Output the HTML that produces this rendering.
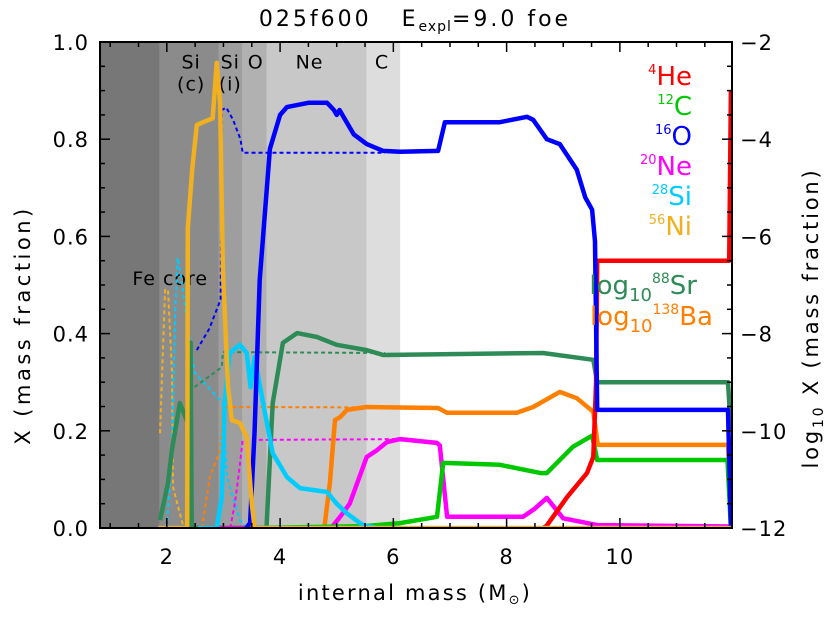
<!DOCTYPE html>
<html><head><meta charset="utf-8">
<style>
html,body{margin:0;padding:0;background:#fff;}
svg{display:block;font-family:"DejaVu Sans","Liberation Sans",sans-serif;}
</style></head>
<body>
<svg id="chart" width="830" height="623" viewBox="0 0 830 623" xmlns="http://www.w3.org/2000/svg">
<defs><clipPath id="plotclip"><rect x="100" y="42" width="632" height="486"/></clipPath></defs>
<g id="shading" clip-path="url(#plotclip)"></g>
<g id="region-labels" font-size="19" fill="#000" letter-spacing="1"></g>
<g id="series" clip-path="url(#plotclip)"></g>
<g id="axes"></g>
<g id="legend"></g>
<text x="415" y="26" text-anchor="middle" font-size="22" letter-spacing="3">025f600&#160;&#160;&#160;E<tspan font-size="14" dy="5" letter-spacing="1">expl</tspan><tspan dy="-5">=9.0 foe</tspan></text>
<text x="415" y="600" text-anchor="middle" font-size="21" letter-spacing="2.2">internal mass (M<tspan font-size="13" dy="4">⊙</tspan><tspan dy="-4">)</tspan></text>
<text transform="translate(30,325) rotate(-90)" text-anchor="middle" font-size="21" letter-spacing="3.5">X (mass fraction)</text>
<text transform="translate(818,318) rotate(-90)" text-anchor="middle" font-size="21" letter-spacing="2.8">log<tspan font-size="14" dy="5">10</tspan><tspan dy="-5"> X (mass fraction)</tspan></text>
</svg>
<script>
const NS='http://www.w3.org/2000/svg';
// axis domains
const xMin=0.82, xMax=11.98;
const xTicks=[2,4,6,8,10];
const yTicksLeft=[0.0,0.2,0.4,0.6,0.8,1.0];
const yTicksRight=[-2,-4,-6,-8,-10,-12];
// shaded zones [start,end] in mass
const zoneStarts=[0.82,1.87,2.92,3.34,3.76,5.53,6.12];
const zoneEnds=[1.87,2.92,3.34,3.76,5.53,6.12,6.12];
const zoneColors=['#777777','#8b8b8b','#9e9e9e','#b1b1b1','#c8c8c8','#dddddd','#ffffff'];
const regionNames=['Si','(c)','Si','(i)','O','Ne','C','Fe core'];
const regionMass=[2.43,2.43,3.12,3.12,3.57,4.52,5.8,2.06];
const regionVal=[0.945,0.9,0.945,0.9,0.945,0.945,0.945,0.5];

// linear series (X, left axis)
const heM=[8.65,8.71,9.07,9.42,9.53,9.58,9.6,11.93,11.96];
const heV=[0,0.005,0.064,0.113,0.146,0.3,0.55,0.55,0.9];
const cM=[3.5,5.5,6.12,6.77,6.88,7.88,8.6,8.71,9.17,9.51,9.6,11.9,11.96];
const cV=[0,0.004,0.01,0.023,0.134,0.13,0.113,0.113,0.167,0.19,0.14,0.14,0];
const oM=[3.40,3.47,3.55,3.64,3.82,4.0,4.12,4.5,4.83,4.95,5.0,5.05,5.3,5.53,5.82,6.12,6.79,6.91,7.88,8.36,8.47,8.71,8.94,9.24,9.39,9.51,9.56,9.60,11.91,11.96];
const oV=[0,0.01,0.2,0.51,0.78,0.85,0.866,0.875,0.875,0.86,0.85,0.86,0.81,0.79,0.776,0.774,0.776,0.835,0.835,0.846,0.84,0.80,0.79,0.737,0.68,0.655,0.59,0.243,0.243,0];
const oDM=[2.53,2.75,2.95,2.97,3.05,3.17,3.3,3.34,5.85];
const oDV=[0.366,0.41,0.47,0.86,0.865,0.84,0.80,0.772,0.772];
const neM=[2.9,4.9,5.06,5.23,5.53,5.71,5.89,6.12,6.77,6.82,6.95,8.29,8.5,8.71,9.0,9.6,11.96];
const neV=[0,0,0.023,0.05,0.146,0.16,0.177,0.183,0.175,0.17,0.023,0.023,0.04,0.062,0.02,0.006,0.003];
const neDM=[3.12,3.2,3.28,3.34,6.1];
const neDV=[0,0.05,0.12,0.181,0.183];
const siM=[2.55,2.88,2.97,3.02,3.11,3.29,3.41,3.48,3.55,3.70,3.87,4.12,4.35,4.83,5.0,5.18,5.46,5.7];
const siV=[0,0,0.064,0.257,0.36,0.377,0.36,0.29,0.352,0.257,0.154,0.105,0.082,0.074,0.05,0.03,0.006,0];
const siDM=[2.0,2.09,2.15,2.19,2.25,2.35,2.49,2.99,3.06,3.29,3.4];
const siDV=[0,0.154,0.45,0.556,0.52,0.43,0.32,0.257,0.105,0.016,0];
const niM=[1.85,2.36,2.37,2.45,2.53,2.64,2.81,2.88,2.94,2.99,3.08,3.15,3.29,3.41,3.50,3.55,11.96];
const niV=[0,0,0.617,0.74,0.829,0.835,0.843,0.957,0.874,0.53,0.29,0.222,0.216,0.187,0.05,0,0];
const niDM=[1.88,1.97,2.02,2.09,2.11,2.23,2.3];
const niDV=[0.195,0.49,0.49,0.325,0.084,0.03,0];
// log series (log10 X, right axis)
const srM=[1.88,2.02,2.09,2.23,2.35,2.37,2.42,2.44,3.76,3.87,4.05,4.30,4.65,5.0,5.53,5.82,8.64,9.53,9.6,11.91,11.96];
const srV=[-11.84,-11.07,-10.4,-9.43,-9.78,-9.3,-8.19,-12,-12,-9.43,-8.19,-7.99,-8.07,-8.23,-8.34,-8.44,-8.4,-8.54,-9.0,-9.0,-9.98];
const srDM=[2.49,2.97,2.99,5.85];
const srDV=[-9.1,-8.69,-8.38,-8.4];
const baM=[4.78,4.88,4.97,5.06,5.18,5.53,6.79,6.95,8.18,8.47,8.94,9.24,9.53,9.61,11.91,11.96];
const baV=[-12,-11.07,-9.78,-9.72,-9.57,-9.51,-9.53,-9.63,-9.63,-9.51,-9.2,-9.33,-9.61,-10.29,-10.29,-11.4];
const baDM=[2.62,2.76,2.94,2.99,6.1];
const baDV=[-12,-10.95,-10.4,-9.51,-9.52];

const L=100,R=732,T=42,B=528;
function sx(m){return L+(m-xMin)/(xMax-xMin)*(R-L);}
function syL(v){return B-v*(B-T);}
function syR(v){return T+(-2-v)/10*(B-T);}

function el(tag,attrs,parent){const e=document.createElementNS(NS,tag);for(const k in attrs)e.setAttribute(k,attrs[k]);parent.appendChild(e);return e;}

const shading=document.getElementById('shading');
for(let i=0;i<zoneStarts.length;i++){
  if(zoneEnds[i]<=zoneStarts[i])continue;
  const r=el('rect',{x:sx(zoneStarts[i]),y:T,width:sx(zoneEnds[i])-sx(zoneStarts[i]),height:B-T,fill:zoneColors[i]},shading);
  
  
}
const rl=document.getElementById('region-labels');
for(let i=0;i<regionNames.length;i++){
  const t=el('text',{x:sx(regionMass[i]),y:syL(regionVal[i]),'text-anchor':'middle'},rl);
  t.textContent=regionNames[i];
  
  
}

const series=document.getElementById('series');
function line(ms,vs,fy,color,w,dash,name){
  const d=ms.map((m,i)=>(i?'L':'M')+sx(m).toFixed(1)+','+fy(vs[i]).toFixed(1)).join(' ');
  const p=el('path',{d:d,fill:'none',stroke:color,'stroke-width':w,'stroke-linejoin':'round'},series);
  if(dash)p.setAttribute('stroke-dasharray',dash);
  
  
}
const DASH='4,3';
line(niDM,niDV,syL,'#f0b020',2,DASH,'ni56-dashed-line');
line(siDM,siDV,syL,'#00ccff',2,DASH,'si28-dashed-line');
line(oDM,oDV,syL,'#0000ff',2,DASH,'o16-dashed-line');
line(neDM,neDV,syL,'#ff00ff',2,DASH,'ne20-dashed-line');
line(srDM,srDV,syR,'#2e8b57',2,DASH,'sr88-dashed-line');
line(baDM,baDV,syR,'#ff7f00',2,DASH,'ba138-dashed-line');
line(srM,srV,syR,'#2e8b57',4.5,null,'sr88-line');
line(baM,baV,syR,'#ff7f00',4.5,null,'ba138-line');
line(neM,neV,syL,'#ff00ff',4.5,null,'ne20-line');
line(cM,cV,syL,'#00c800',4.5,null,'c12-line');
line(siM,siV,syL,'#00ccff',4.5,null,'si28-line');
line(heM,heV,syL,'#ff0000',4.5,null,'he4-line');
line(oM,oV,syL,'#0000ff',4.5,null,'o16-line');
line(niM,niV,syL,'#f0b020',4.5,null,'ni56-line');

const axes=document.getElementById('axes');
const frame=el('rect',{x:L,y:T,width:R-L,height:B-T,fill:'none',stroke:'#000','stroke-width':2},axes);


for(let m=1;m<=11.9;m+=0.5){
  const major=Math.abs(m/2-Math.round(m/2))<1e-6;
  const len=major?10:5;
  el('line',{x1:sx(m),x2:sx(m),y1:B,y2:B-len,stroke:'#000','stroke-width':1.5},axes);
  el('line',{x1:sx(m),x2:sx(m),y1:T,y2:T+len,stroke:'#000','stroke-width':1.5},axes);
}
xTicks.forEach(v=>{const t=el('text',{x:sx(v),y:B+36,'text-anchor':'middle','font-size':21,'letter-spacing':1},axes);t.textContent=v;
  
  });
for(let k=0;k<=20;k++){const v=k*0.05;const major=k%4===0;
  el('line',{x1:L,x2:L+(major?10:5),y1:syL(v),y2:syL(v),stroke:'#000','stroke-width':1.5},axes);}
yTicksLeft.forEach(v=>{const t=el('text',{x:89,y:syL(v)+8,'text-anchor':'end','font-size':21,'letter-spacing':1},axes);t.textContent=v.toFixed(1);
  
  });
for(let k=0;k<=20;k++){const v=-2-k*0.5;const major=k%4===0;
  el('line',{x1:R,x2:R-(major?10:5),y1:syR(v),y2:syR(v),stroke:'#000','stroke-width':1.5},axes);}
yTicksRight.forEach(v=>{const t=el('text',{x:740,y:syR(v)+8,'text-anchor':'start','font-size':21,'letter-spacing':1},axes);t.textContent='\u2212'+Math.abs(v);
  
  });

// legend
const legendNames=['He','C','O','Ne','Si','Ni'];
const legendIso=['4','12','16','20','28','56'];
const legendColors=['#ff0000','#00c800','#0000ff','#ff00ff','#00ccff','#f0b020'];
const lg=document.getElementById('legend');
legendNames.forEach((n,i)=>{
  const t=el('text',{x:692,y:85+i*30,'text-anchor':'end','font-size':26,fill:legendColors[i]},lg);
  t.innerHTML='<tspan font-size="13" dy="-11">'+legendIso[i]+'</tspan><tspan dy="11">'+n+'</tspan>';
  
  
});
const t1=el('text',{x:697,y:294,'text-anchor':'end','font-size':26,fill:'#2e8b57'},lg);
t1.innerHTML='log<tspan font-size="18" dy="7">10</tspan><tspan font-size="14" dy="-18">88</tspan><tspan dy="11">Sr</tspan>';


const t2=el('text',{x:713,y:325,'text-anchor':'end','font-size':26,fill:'#ff7f00'},lg);
t2.innerHTML='log<tspan font-size="18" dy="7">10</tspan><tspan font-size="14" dy="-18">138</tspan><tspan dy="11">Ba</tspan>';


</script>
</body></html>
